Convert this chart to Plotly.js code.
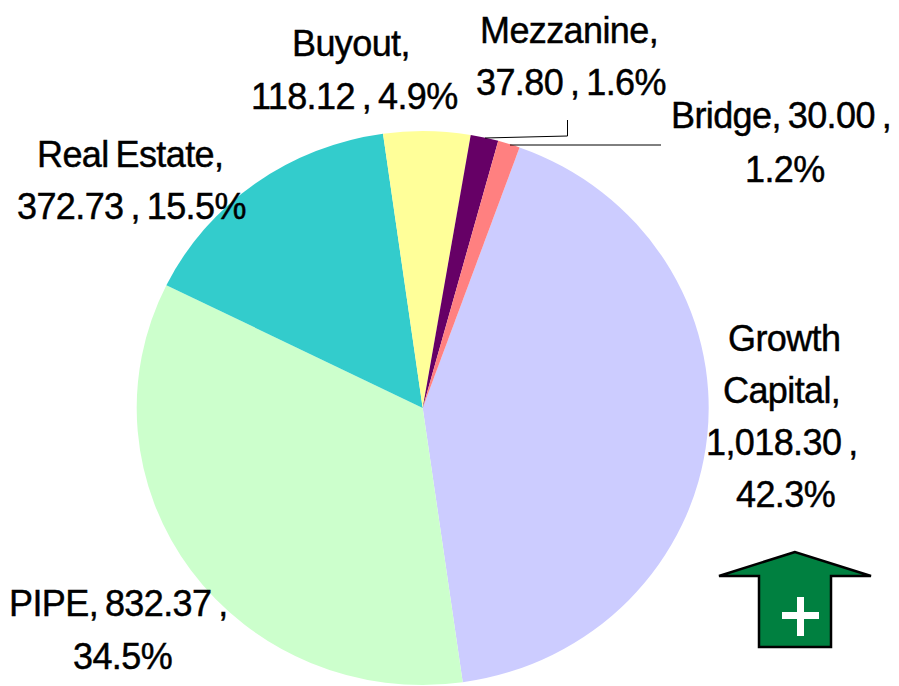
<!DOCTYPE html>
<html><head><meta charset="utf-8">
<script src="https://cdn.plot.ly/plotly-3.0.1.min.js"></script>
<style>html,body{margin:0;padding:0;background:#fff;overflow:hidden}#c{width:899px;height:686px}
.annotation-text{letter-spacing:-0.6px;word-spacing:-2.5px;stroke:#000;stroke-width:0.45px}</style></head>
<body><div id="c"></div>
<script>
const categories = ["Growth Capital","PIPE","Real Estate","Buyout","Mezzanine","Bridge"];
const values = [1018.30,832.37,372.73,118.12,37.80,30.00];
const colors = ["#CCCCFF","#CCFFCC","#33CCCC","#FFFF99","#660066","#FF8080"];
const labelLines = [
  ["Mezzanine,",569,30],["37.80 , 1.6%",571,83],
  ["Buyout,",351,44],["118.12 , 4.9%",354,96],
  ["Bridge, 30.00 ,",781,116],["1.2%",785,169],
  ["Real Estate,",130,155],["372.73 , 15.5%",131,207],
  ["Growth",784,338],["Capital,",781,390],["1,018.30 ,",782,442],["42.3%",785,494],
  ["PIPE, 832.37 ,",118,603],["34.5%",122,656]
];
const W=899,H=686;
const px=x=>x/W, py=y=>1-y/H;
const cx=422.7,cy=408,rY=277,rX=286;
const pathOf=pts=>"M"+pts.map(p=>px(p[0])+","+py(p[1])).join("L");
const annotations=labelLines.map(l=>({text:l[0],x:px(l[1]),y:py(l[2]),xref:"paper",yref:"paper",
  xanchor:"center",yanchor:"middle",showarrow:false,font:{family:"Liberation Sans, Arial, sans-serif",size:36,color:"#000"}}));
const shapes=[
 {type:"path",xref:"paper",yref:"paper",path:pathOf([[485,138],[567.5,136],[567.5,120]]),line:{color:"#000",width:1}},
 {type:"path",xref:"paper",yref:"paper",path:pathOf([[510,145],[661,145]]),line:{color:"#000",width:1}},
 {type:"path",xref:"paper",yref:"paper",path:pathOf([[795,552],[719,576],[759,576],[759,647],[831,647],[831,576],[871,576]])+"Z",fillcolor:"#008040",line:{color:"#000",width:2.5}},
 {type:"rect",xref:"paper",yref:"paper",x0:px(782),x1:px(819),y0:py(612),y1:py(619),fillcolor:"#fff",line:{width:0}},
 {type:"rect",xref:"paper",yref:"paper",x0:px(797),x1:px(804),y0:py(597),y1:py(636),fillcolor:"#fff",line:{width:0}}
];
Plotly.newPlot("c",[{type:"pie",labels:categories,values:values,sort:false,direction:"clockwise",rotation:19.8,
  textinfo:"none",hoverinfo:"label+value+percent",showlegend:false,marker:{colors:colors,line:{width:0}},
  domain:{x:[(cx-rY)/W,(cx+rY)/W],y:[1-(cy+rY)/H,1-(cy-rY)/H]}}],
 {width:W,height:H,margin:{l:0,r:0,t:0,b:0},paper_bgcolor:"#fff",showlegend:false,annotations:annotations,shapes:shapes},
 {displayModeBar:false,staticPlot:true}).then(()=>{
   const g=document.querySelector("#c .pielayer");
   if(g) g.setAttribute("transform",`translate(${cx},0) scale(${rX/rY},1) translate(${-cx},0)`);
 });
</script></body></html>
